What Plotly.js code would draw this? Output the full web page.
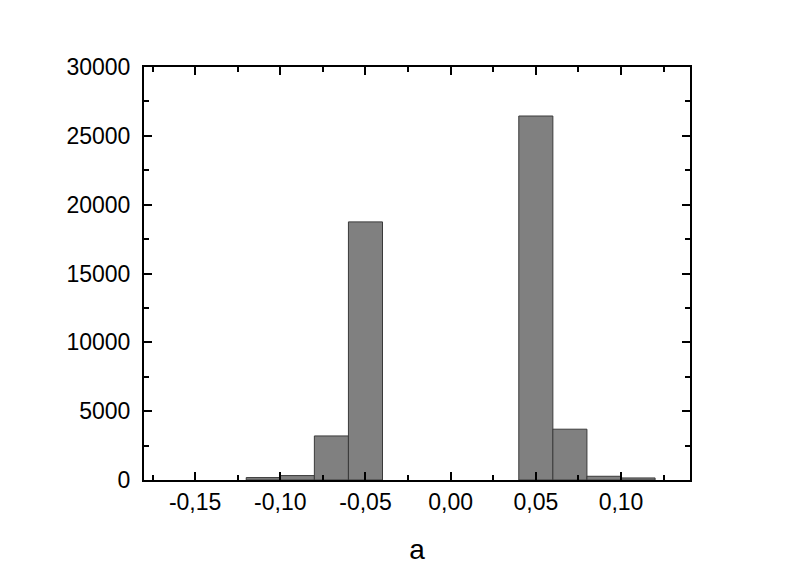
<!DOCTYPE html>
<html>
<head>
<meta charset="utf-8">
<script src="https://cdn.plot.ly/plotly-3.0.1.min.js"></script>
<style>html,body{margin:0;padding:0;background:#fff;}#chart{width:801px;height:576px;}</style>
</head>
<body>
<div id="chart"></div>
<script>
// Histogram bins (centres), bin width and counts
var binCenters = [-0.11, -0.09, -0.07, -0.05, 0.05, 0.07, 0.09, 0.11];
var binWidth = 0.02;
var counts = [175, 320, 3200, 18750, 26440, 3690, 270, 150];
var xTickVals = [-0.15, -0.10, -0.05, 0.00, 0.05, 0.10];
var xTickText = ["-0,15", "-0,10", "-0,05", "0,00", "0,05", "0,10"];
var yTickVals = [0, 5000, 10000, 15000, 20000, 25000, 30000];
var yTickText = ["0", "5000", "10000", "15000", "20000", "25000", "30000"];

var trace = {
  type: 'bar',
  x: binCenters,
  y: counts,
  width: binCenters.map(function(){ return binWidth; }),
  marker: {color: '#808080', line: {color: '#3a3a3a', width: 1}},
  hoverinfo: 'x+y'
};

var fontFam = 'Liberation Sans, Arial, sans-serif';
var layout = {
  width: 801, height: 576,
  margin: {l: 144, r: 111, t: 67, b: 96, pad: 0},
  paper_bgcolor: '#ffffff', plot_bgcolor: '#ffffff',
  showlegend: false,
  bargap: 0,
  font: {family: fontFam, color: '#000000', size: 23},
  xaxis: {
    range: [-0.18, 0.1405],
    tickmode: 'array', tickvals: xTickVals, ticktext: xTickText,
    ticks: 'inside', ticklen: 8, tickwidth: 2, tickcolor: '#000',
    minor: {dtick: 0.025, tick0: 0, ticks: 'inside', ticklen: 5, tickwidth: 2, tickcolor: '#000'},
    showline: true, linecolor: '#000', linewidth: 2, mirror: 'ticks',
    showgrid: false, zeroline: false,
    ticklabelstandoff: 0,
    tickfont: {family: fontFam, size: 23, color: '#000'},
    title: {text: 'a', font: {family: fontFam, size: 28, color: '#000'}, standoff: 26}
  },
  yaxis: {
    range: [0, 30000],
    tickmode: 'array', tickvals: yTickVals, ticktext: yTickText,
    ticks: 'inside', ticklen: 8, tickwidth: 2, tickcolor: '#000',
    minor: {dtick: 2500, tick0: 0, ticks: 'inside', ticklen: 5, tickwidth: 2, tickcolor: '#000'},
    showline: true, linecolor: '#000', linewidth: 2, mirror: 'ticks',
    showgrid: false, zeroline: false,
    ticklabelstandoff: 7,
    tickfont: {family: fontFam, size: 23, color: '#000'}
  }
};

Plotly.newPlot('chart', [trace], layout, {staticPlot: true, displayModeBar: false});
</script>
</body>
</html>
